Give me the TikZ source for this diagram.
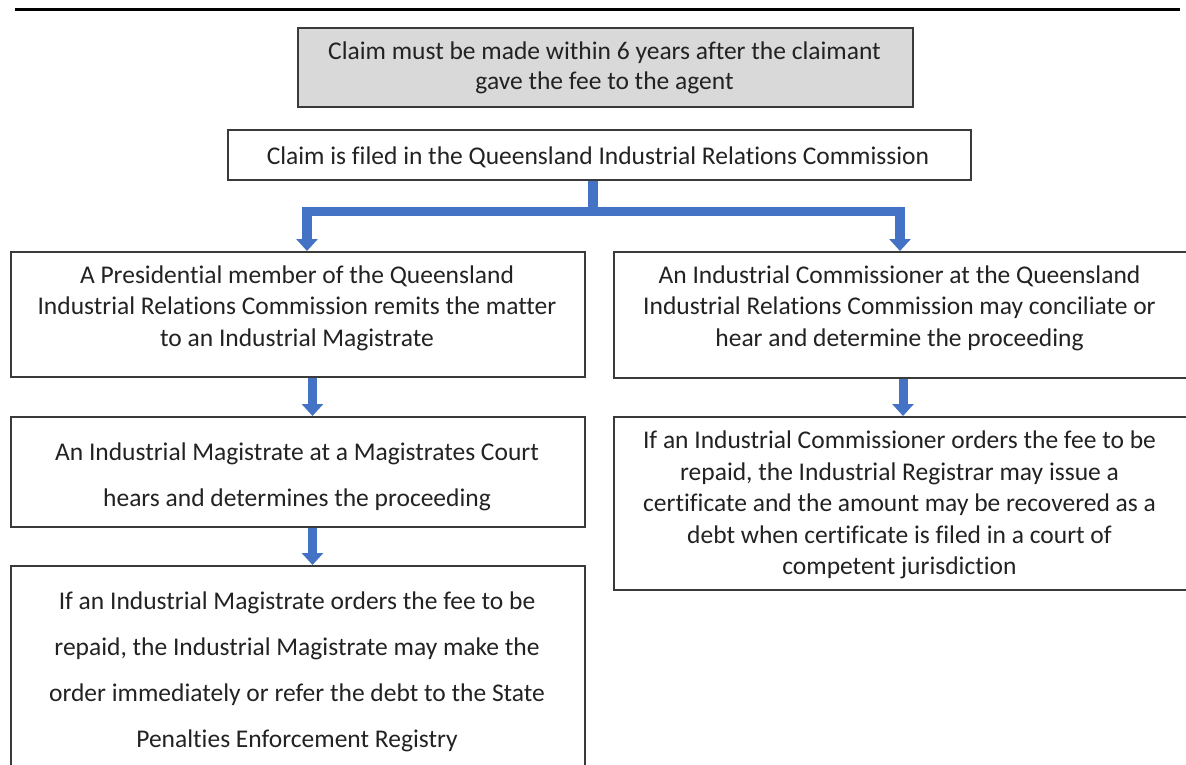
\documentclass[tikz,border=0pt]{standalone}
\usepackage{fontspec}
\setmainfont{Carlito}[Ligatures=NoCommon]
\usetikzlibrary{arrows.meta}
\definecolor{fillgray}{HTML}{D9D9D9}
\definecolor{arrowblue}{HTML}{4472C4}
\definecolor{edgegray}{HTML}{3A3A3A}
\definecolor{txtcol}{HTML}{222222}
\begin{document}
\begin{tikzpicture}[x=1pt,y=-1pt,
  box/.style={draw=edgegray, line width=1.5pt, inner sep=0pt, anchor=north west},
  txt/.style={text=txtcol, align=center, font=\fontsize{25.5}{31.5}\selectfont, inner sep=0pt},
  dbl/.style={font=\fontsize{25.5}{46}\selectfont},
  conn/.style={draw=arrowblue, line width=9.5pt, line join=miter, -{Triangle[width=21pt,length=12pt]}},
  conntwo/.style={draw=arrowblue, line width=9pt, -{Triangle[width=21pt,length=12pt]}}
  ]
\clip (0,0) rectangle (1186,764);
\draw[line width=3.5pt, black] (15,9.5) -- (1180,9.5);
% boxes
\node[box, fill=fillgray, minimum width=615pt, minimum height=79pt] (b1) at (297,27) {};
\node[box, minimum width=743pt, minimum height=50pt] (b2) at (227,129) {};
\node[box, minimum width=574pt, minimum height=125pt] (l1) at (10,251) {};
\node[box, minimum width=574pt, minimum height=110pt] (l2) at (10,416) {};
\node[box, minimum width=574pt, minimum height=250pt] (l3) at (10,565) {};
\node[box, minimum width=575pt, minimum height=126pt] (r1) at (613,251) {};
\node[box, minimum width=575pt, minimum height=173pt] (r2) at (613,416) {};
% texts
\node[txt, font=\fontsize{25.5}{30.5}\selectfont] (b1t) at (604.5,68) {Claim must be made within 6 years after the claimant\\gave the fee to the agent};
\node[txt] (b2t) at (598,157.5) {Claim is filed in the Queensland Industrial Relations Commission};
\node[txt] (l1t) at (297,308) {A Presidential member of the Queensland\\Industrial Relations Commission remits the matter\\to an Industrial Magistrate};
\node[txt, dbl] (l2t) at (297,476.5) {An Industrial Magistrate at a Magistrates Court\\hears and determines the proceeding};
\node[txt, dbl] (l3t) at (297,672) {If an Industrial Magistrate orders the fee to be\\repaid, the Industrial Magistrate may make the\\order immediately or refer the debt to the State\\Penalties Enforcement Registry};
\node[txt] (r1t) at (899.5,308) {An Industrial Commissioner at the Queensland\\Industrial Relations Commission may conciliate or\\hear and determine the proceeding};
\node[txt] (r2t) at (899.5,505) {If an Industrial Commissioner orders the fee to be\\repaid, the Industrial Registrar may issue a\\certificate and the amount may be recovered as a\\debt when certificate is filed in a court of\\competent jurisdiction};
% connectors
\coordinate (sx) at (593,211.5);
\coordinate (lx) at (307,0);
\coordinate (rx) at (900,0);
\coordinate (ax) at (312.5,0);
\coordinate (bx) at (903,0);
\draw[conn] (b2.south -| sx) -- (sx) -| (l1.north -| lx);
\draw[conn] (sx) -| (r1.north -| rx);
\draw[conntwo] (l1.south -| ax) -- (l2.north -| ax);
\draw[conntwo] (l2.south -| ax) -- (l3.north -| ax);
\draw[conntwo] (r1.south -| bx) -- (r2.north -| bx);
\end{tikzpicture}
\end{document}
